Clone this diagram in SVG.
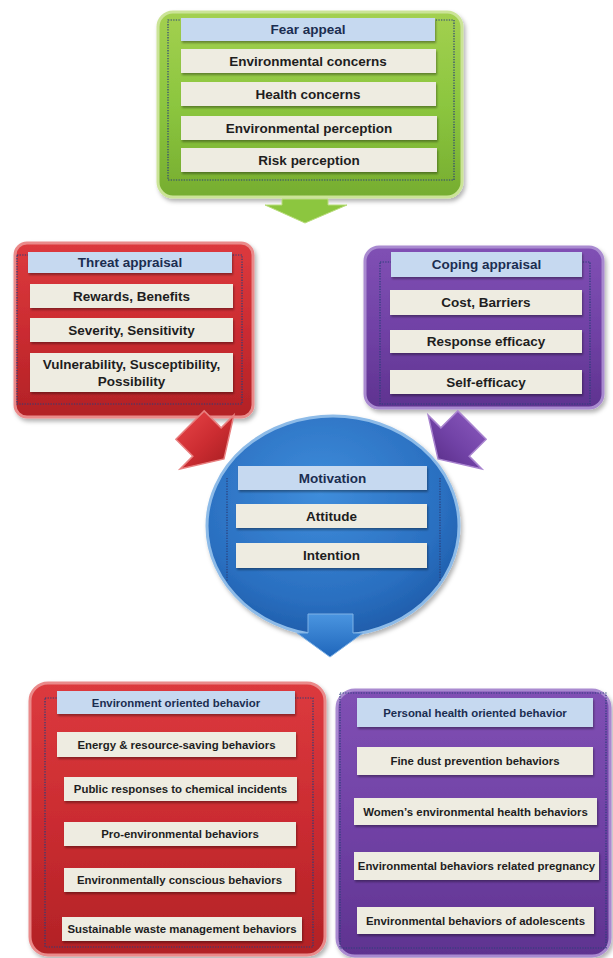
<svg xmlns="http://www.w3.org/2000/svg" width="613" height="958" viewBox="0 0 613 958">
<defs>
  <linearGradient id="gGreen" x1="0" y1="0" x2="0" y2="1">
    <stop offset="0" stop-color="#a3d050"/><stop offset="0.5" stop-color="#8cc63f"/><stop offset="1" stop-color="#76ad30"/>
  </linearGradient>
  <linearGradient id="gRed" x1="0" y1="0" x2="0" y2="1">
    <stop offset="0" stop-color="#dc3a3e"/><stop offset="0.5" stop-color="#cb2c31"/><stop offset="1" stop-color="#b22226"/>
  </linearGradient>
  <linearGradient id="gPurple" x1="0" y1="0" x2="0" y2="1">
    <stop offset="0" stop-color="#8050b4"/><stop offset="0.5" stop-color="#7142a6"/><stop offset="1" stop-color="#5f3390"/>
  </linearGradient>
  <radialGradient id="gBlue" cx="0.45" cy="0.35" r="0.7">
    <stop offset="0" stop-color="#3f8ddb"/><stop offset="0.7" stop-color="#2a6fc0"/><stop offset="1" stop-color="#1c59a6"/>
  </radialGradient>
  <linearGradient id="gBlueArrow" x1="0" y1="0" x2="0" y2="1">
    <stop offset="0" stop-color="#4a95e0"/><stop offset="1" stop-color="#1f66bb"/>
  </linearGradient>
  <filter id="sh" x="-10%" y="-10%" width="130%" height="140%">
    <feDropShadow dx="1" dy="2" stdDeviation="1" flood-color="#000" flood-opacity="0.35"/>
  </filter>
  <filter id="shBig" x="-10%" y="-10%" width="125%" height="125%">
    <feDropShadow dx="2" dy="3" stdDeviation="2" flood-color="#000" flood-opacity="0.3"/>
  </filter>
  <style>
    .hdr { fill: #c6d9f0; filter: url(#sh); }
    .row { fill: #eeece1; filter: url(#sh); }
    .t { font-family: "Liberation Sans", "Noto Sans", Arial, sans-serif; font-weight: bold; font-size: 13.5px; fill: #1e1e1e; text-anchor: middle; dominant-baseline: central; }
    .th { fill: #1b2d50; }
    .s { font-size: 11.4px; }
    .dot { fill: none; stroke: #2b3f7a; stroke-width: 1.2; stroke-dasharray: 1.3 1.3; }
  </style>
</defs>
<rect width="613" height="958" fill="#ffffff"/>

<g id="fear-appeal">
  <rect x="158" y="12" width="304" height="185" rx="15" fill="url(#gGreen)" stroke="#cbe497" stroke-width="3" filter="url(#shBig)"/>
  <rect x="168" y="20" width="286" height="160" class="dot"/>
  <rect x="181" y="18" width="254" height="23" class="hdr"/>
  <text x="308" y="29.5" class="t th">Fear appeal</text>
  <rect x="181" y="49" width="255" height="24" class="row"/>
  <text x="308" y="61" class="t">Environmental concerns</text>
  <rect x="181" y="82" width="255" height="24" class="row"/>
  <text x="308" y="94" class="t">Health concerns</text>
  <rect x="181" y="116" width="256" height="24" class="row"/>
  <text x="309" y="128" class="t">Environmental perception</text>
  <rect x="181" y="148" width="256" height="24" class="row"/>
  <text x="309" y="160" class="t">Risk perception</text>
</g>

<g id="threat-appraisal">
  <rect x="15" y="243" width="238" height="174" rx="12" fill="url(#gRed)" stroke="#ea8a8a" stroke-width="3" filter="url(#shBig)"/>
  <rect x="17" y="255" width="225" height="149" class="dot"/>
  <rect x="28" y="252" width="204" height="21" class="hdr"/>
  <text x="130" y="262.5" class="t th">Threat appraisal</text>
  <rect x="30" y="284" width="203" height="24" class="row"/>
  <text x="131.5" y="296" class="t">Rewards, Benefits</text>
  <rect x="30" y="318" width="203" height="24" class="row"/>
  <text x="131.5" y="330" class="t">Severity, Sensitivity</text>
  <rect x="30" y="353" width="203" height="39" class="row"/>
  <text x="131.5" y="364" class="t">Vulnerability, Susceptibility,</text>
  <text x="131.5" y="381" class="t">Possibility</text>
</g>

<g id="coping-appraisal">
  <rect x="365" y="247" width="238" height="161" rx="14" fill="url(#gPurple)" stroke="#a98ad0" stroke-width="3" filter="url(#shBig)"/>
  <rect x="380" y="262" width="210" height="142" class="dot"/>
  <rect x="391" y="252" width="191" height="25" class="hdr"/>
  <text x="486.5" y="264.5" class="t th">Coping appraisal</text>
  <rect x="390" y="290" width="192" height="25" class="row"/>
  <text x="486" y="302.5" class="t">Cost, Barriers</text>
  <rect x="390" y="330" width="192" height="23" class="row"/>
  <text x="486" y="341.5" class="t">Response efficacy</text>
  <rect x="390" y="370" width="192" height="24" class="row"/>
  <text x="486" y="382" class="t">Self-efficacy</text>
</g>

<g id="motivation">
  <ellipse cx="333" cy="526" rx="126" ry="110" fill="url(#gBlue)" stroke="#8dbbe8" stroke-width="3" filter="url(#shBig)"/>
  <line x1="227" y1="478" x2="227" y2="582" class="dot" stroke="#9fc3ea"/>
  <line x1="440" y1="478" x2="440" y2="582" class="dot" stroke="#9fc3ea"/>
  <rect x="238" y="466" width="189" height="24" class="hdr"/>
  <text x="332.5" y="478" class="t th">Motivation</text>
  <rect x="236" y="504" width="191" height="24" class="row"/>
  <text x="331.5" y="516" class="t">Attitude</text>
  <rect x="236" y="543" width="191" height="25" class="row"/>
  <text x="331.5" y="555.5" class="t">Intention</text>
</g>

<g id="environment-behavior">
  <rect x="30" y="683" width="295" height="272" rx="18" fill="url(#gRed)" stroke="#ea8a8a" stroke-width="3" filter="url(#shBig)"/>
  <rect x="45" y="698" width="268" height="249" class="dot"/>
  <rect x="57" y="691" width="238" height="23" class="hdr"/>
  <text x="176" y="702.5" class="t th s">Environment oriented behavior</text>
  <rect x="57" y="732" width="239" height="25" class="row"/>
  <text x="176.5" y="744.5" class="t s">Energy &amp; resource-saving behaviors</text>
  <rect x="64" y="777" width="233" height="24" class="row"/>
  <text x="180.5" y="789" class="t s">Public responses to chemical incidents</text>
  <rect x="64" y="822" width="232" height="24" class="row"/>
  <text x="180" y="834" class="t s">Pro-environmental behaviors</text>
  <rect x="64" y="868" width="231" height="24" class="row"/>
  <text x="179.5" y="880" class="t s">Environmentally conscious behaviors</text>
  <rect x="62" y="917" width="240" height="24" class="row"/>
  <text x="182" y="929" class="t s">Sustainable waste management behaviors</text>
</g>

<g id="health-behavior">
  <rect x="337" y="690" width="273" height="266" rx="18" fill="url(#gPurple)" stroke="#a98ad0" stroke-width="3" filter="url(#shBig)"/>
  <rect x="340" y="693" width="266" height="255" class="dot"/>
  <rect x="357" y="698" width="236" height="29" class="hdr"/>
  <text x="475" y="712.5" class="t th s">Personal health oriented behavior</text>
  <rect x="357" y="747" width="236" height="28" class="row"/>
  <text x="475" y="761" class="t s">Fine dust prevention behaviors</text>
  <rect x="354" y="798" width="243" height="27" class="row"/>
  <text x="475.5" y="811.5" class="t s">Women’s environmental health behaviors</text>
  <rect x="354" y="852" width="245" height="28" class="row"/>
  <text x="476.5" y="866" class="t s">Environmental behaviors related pregnancy</text>
  <rect x="357" y="907" width="237" height="27" class="row"/>
  <text x="475.5" y="920.5" class="t s">Environmental behaviors of adolescents</text>
</g>

<g id="connectors">
  <path d="M282,199 H328 V205 H347 L305,223 L265,205 H282 Z" fill="#8cc63f" stroke="#b8dc7a" stroke-width="1"/>
  <g transform="translate(207,442) rotate(-45)">
    <path d="M-20,-24 H20 V0 H38 L0,24 L-38,0 H-20 Z" fill="url(#gRed)" stroke="#e88080" stroke-width="1.5"/>
  </g>
  <g transform="translate(455,442) rotate(45)">
    <path d="M-20,-24 H20 V0 H38 L0,24 L-38,0 H-20 Z" fill="url(#gPurple)" stroke="#a883cf" stroke-width="1.5"/>
  </g>
  <path d="M308,614 H353 V633 H363 L330,657 L297,633 H308 Z" fill="url(#gBlueArrow)" stroke="#7fb2e6" stroke-width="1"/>
</g>
</svg>
